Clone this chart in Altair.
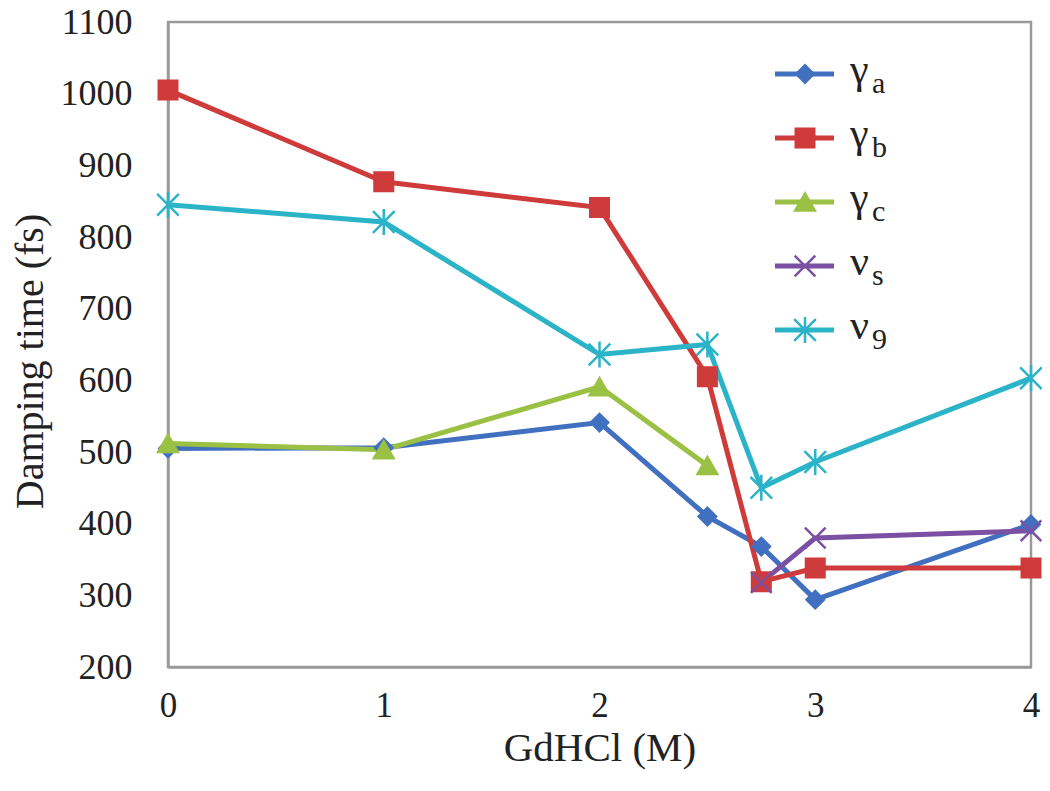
import altair as alt
import pandas as pd

# ---- data ----
series_names = ["γa", "γb", "γc", "νs", "ν9"]
legend_main = ["γ", "γ", "γ", "ν", "ν"]
legend_sub = ["a", "b", "c", "s", "9"]

x_full = [0, 1, 2, 2.5, 2.75, 3, 4]
gamma_a = [505, 506, 541, 410, 368, 294, 399]
gamma_b = [1005, 877, 841, 605, 319, 338, 338]
x_gc = [0, 1, 2, 2.5]
gamma_c = [512, 503, 591, 481]
x_ns = [2.75, 3, 4]
nu_s = [318, 380, 390]
nu_9 = [845, 821, 636, 650, 450, 486, 603]

x_ticks = [0, 1, 2, 3, 4]
y_ticks = [200, 300, 400, 500, 600, 700, 800, 900, 1000, 1100]

colors = ["#4170c0", "#cf3b3b", "#9bc144", "#7b4fa3", "#2bb3c8"]
x_path = "M-1,-1L1,1M-1,1L1,-1"
ast_path = "M-1,-1L1,1M-1,1L1,-1M0,-1.2L0,1.2"
shapes = ["diamond", "square", "triangle-up", x_path, ast_path]
sizes = [300, 470, 330, 380, 420]

rows = []
for name, xs, ys in [
    ("γa", x_full, gamma_a),
    ("γb", x_full, gamma_b),
    ("γc", x_gc, gamma_c),
    ("νs", x_ns, nu_s),
    ("ν9", x_full, nu_9),
]:
    for xv, yv in zip(xs, ys):
        rows.append({"series": name, "gdhcl": xv, "time": yv})
df = pd.DataFrame(rows)

leg_df = pd.DataFrame({
    "series": series_names,
    "row": list(range(len(series_names))),
    "main": legend_main,
    "sub": legend_sub,
})

FONT = "Liberation Serif"
color_scale = alt.Scale(domain=series_names, range=colors)
shape_scale = alt.Scale(domain=series_names, range=shapes)
size_scale = alt.Scale(domain=series_names, range=sizes)

x_enc = alt.X(
    "gdhcl:Q",
    scale=alt.Scale(domain=[0, 4], nice=False),
    axis=alt.Axis(
        values=x_ticks, format="d", title="GdHCl (M)", grid=False, ticks=False, tickSize=0,
        labelFlush=False, labelOverlap=False,
        labelPadding=21, labelFontSize=35, labelFont=FONT, labelColor="#222",
        titleFont=FONT, titleFontSize=41, titleFontWeight="normal", titleColor="#222",
        titleY=93, titleBaseline="alphabetic",
        domainColor="#9a9a9a", domainWidth=2.5,
    ),
)
y_enc = alt.Y(
    "time:Q",
    scale=alt.Scale(domain=[200, 1100], nice=False),
    axis=alt.Axis(
        values=y_ticks, format="d", title="Damping time (fs)", grid=False, ticks=False, tickSize=0,
        labelFlush=False, labelOverlap=False,
        labelPadding=36, labelFontSize=36, labelFont=FONT, labelColor="#222",
        titleFont=FONT, titleFontSize=40, titleFontWeight="normal", titleColor="#222",
        titleX=-126, titleY=339, titleBaseline="alphabetic", titleAngle=-90,
        domainColor="#9a9a9a", domainWidth=2.5,
    ),
)

color_enc = alt.Color("series:N", scale=color_scale, legend=None)
stroke_enc = alt.Stroke("series:N", scale=color_scale, legend=None)
shape_enc = alt.Shape("series:N", scale=shape_scale, legend=None)
size_enc = alt.Size("series:N", scale=size_scale, legend=None)

lines = alt.Chart(df).mark_line(strokeWidth=5).encode(
    x=x_enc, y=y_enc, color=color_enc
)
points = alt.Chart(df).mark_point(filled=True, opacity=1, strokeWidth=2.5).encode(
    x=x_enc, y=y_enc, color=color_enc, stroke=stroke_enc, shape=shape_enc, size=size_enc
)
main = alt.layer(lines, points)

y_leg = alt.Y("row:Q", scale=alt.Scale(domain=[0, 4], range=[52, 308]), axis=None)
leg_rule = alt.Chart(leg_df).mark_rule(strokeWidth=5).encode(
    x=alt.value(607), x2=alt.value(666), y=y_leg, color=color_enc
)
leg_pts = alt.Chart(leg_df).mark_point(filled=True, opacity=1, strokeWidth=2.5).encode(
    x=alt.value(637), y=y_leg, color=color_enc, stroke=stroke_enc, shape=shape_enc, size=size_enc
)
leg_main = alt.Chart(leg_df).mark_text(
    align="left", baseline="alphabetic", font=FONT, fontSize=42, dy=9, color="#222"
).encode(x=alt.value(682), y=y_leg, text="main:N")
leg_sub = alt.Chart(leg_df).mark_text(
    align="left", baseline="alphabetic", font=FONT, fontSize=30, dy=19, color="#222"
).encode(x=alt.value(704), y=y_leg, text="sub:N")
legend = alt.layer(leg_rule, leg_pts, leg_main, leg_sub)

chart = (
    alt.layer(main, legend)
    .resolve_scale(y="independent")
    .properties(
        width=863,
        height=645,
        autosize=alt.AutoSizeParams(type="none"),
        padding={"left": 160, "top": 14, "right": 11, "bottom": 110},
        background="white",
    )
    .configure_view(stroke="#9a9a9a", strokeWidth=2.5)
)

chart.save("out.html", embed_options={"renderer": "svg", "actions": False})
